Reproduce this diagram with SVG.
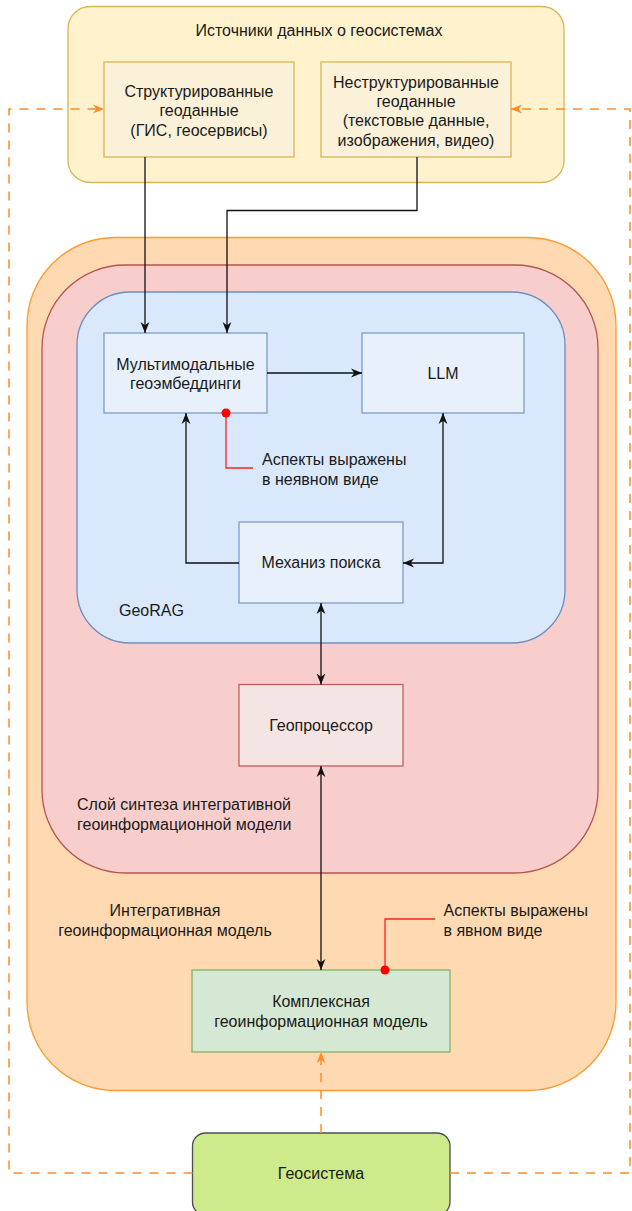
<svg xmlns="http://www.w3.org/2000/svg" width="632" height="1211" viewBox="0 0 632 1211">
<defs>
<style>
text{font-family:"Liberation Sans",Arial,sans-serif;font-size:16px;fill:#1a1a1a}
.c{text-anchor:middle}
.blk{fill:none;stroke:#111;stroke-width:1.3}
.org{fill:none;stroke:#ff8c26;stroke-width:1.5;stroke-dasharray:9 8}
.red{fill:none;stroke:#ff2020;stroke-width:1.3}
.inner{fill:#e8f0fb;stroke:#7d9ccb;stroke-width:1.3}
</style>
<marker id="ab" viewBox="0 0 10 10" refX="10" refY="5" markerWidth="11" markerHeight="11" markerUnits="userSpaceOnUse" orient="auto-start-reverse">
<path d="M0,1 L10,5 L0,9 L3,5 z" fill="#111"/>
</marker>
<marker id="ao" viewBox="0 0 10 10" refX="10" refY="5" markerWidth="11" markerHeight="11" markerUnits="userSpaceOnUse" orient="auto-start-reverse">
<path d="M0,1 L10,5 L0,9 L3,5 z" fill="#ff8c26"/>
</marker>
</defs>
<rect width="632" height="1211" fill="#ffffff"/>

<g id="sources">
<rect x="68" y="6.5" width="496" height="176" rx="22" fill="#fff2cc" stroke="#d6b656" stroke-width="1.3"/>
<text class="c" x="319" y="36">Источники данных о геосистемах</text>
</g>
<g id="structured">
<rect x="104" y="62" width="190" height="95" fill="#faf1d8" stroke="#d6b656" stroke-width="1.3"/>
<text class="c" x="199" y="96.5">Структурированные</text>
<text class="c" x="199" y="116">геоданные</text>
<text class="c" x="199" y="135.5">(ГИС, геосервисы)</text>
</g>
<g id="unstructured">
<rect x="321" y="62" width="190" height="95" fill="#faf1d8" stroke="#d6b656" stroke-width="1.3"/>
<text class="c" x="416" y="87.5">Неструктурированные</text>
<text class="c" x="416" y="107">геоданные</text>
<text class="c" x="416" y="126">(текстовые данные,</text>
<text class="c" x="416" y="145.5">изображения, видео)</text>
</g>

<g id="integrative-model">
<rect x="27" y="237.5" width="589" height="853" rx="88" fill="#ffd9b1" stroke="#ff9a2e" stroke-width="1.3"/>
<text class="c" x="165" y="915.5">Интегративная</text>
<text class="c" x="165" y="935.5">геоинформационная модель</text>
</g>
<g id="synthesis-layer">
<rect x="42" y="265" width="556" height="608" rx="83" fill="#f8cecc" stroke="#b85450" stroke-width="1.3"/>
<text x="77" y="810">Слой синтеза интегративной</text>
<text x="77" y="830">геоинформационной модели</text>
</g>
<g id="georag">
<rect x="77" y="292" width="488" height="351" rx="53" fill="#dae8fc" stroke="#6c8ebf" stroke-width="1.3"/>
<text x="119" y="615.5">GeoRAG</text>
</g>
<g id="embeddings">
<rect class="inner" x="104" y="333" width="163" height="80"/>
<text class="c" x="185.5" y="369.5">Мультимодальные</text>
<text class="c" x="185.5" y="389">геоэмбеддинги</text>
</g>
<g id="llm">
<rect class="inner" x="362" y="333" width="162" height="80"/>
<text class="c" x="443" y="378.5">LLM</text>
</g>
<g id="search">
<rect class="inner" x="239" y="522" width="164" height="81"/>
<text class="c" x="321" y="568">Механиз поиска</text>
</g>
<g id="geoprocessor">
<rect x="239" y="684.5" width="164" height="81.5" fill="#f5e4e4" stroke="#c0605c" stroke-width="1.3"/>
<text class="c" x="321" y="731">Геопроцессор</text>
</g>
<g id="complex-model">
<rect x="192" y="970" width="258" height="82" fill="#d5e8d4" stroke="#82b366" stroke-width="1.3"/>
<text class="c" x="321" y="1007">Комплексная</text>
<text class="c" x="321" y="1026.5">геоинформационная модель</text>
</g>
<g id="geosystem">
<rect x="192.5" y="1133" width="257.5" height="82" rx="13" fill="#cdeb8b" stroke="#4a4d50" stroke-width="1.3"/>
<text class="c" x="321" y="1178.5">Геосистема</text>
</g>
<g id="note-implicit">
<text x="262" y="465">Аспекты выражены</text>
<text x="262" y="485">в неявном виде</text>
</g>
<g id="note-explicit">
<text x="443.5" y="915.5">Аспекты выражены</text>
<text x="443.5" y="935.5">в явном виде</text>
</g>

<g id="connectors">
<path class="blk" d="M145 157 V333" marker-end="url(#ab)"/>
<path class="blk" d="M417 157 V210.5 H227 V333" marker-end="url(#ab)"/>
<path class="blk" d="M267 373 H362" marker-end="url(#ab)"/>
<path class="blk" d="M239 563 H186 V413" marker-end="url(#ab)"/>
<path class="blk" d="M403 563 H443 V413" marker-start="url(#ab)" marker-end="url(#ab)"/>
<path class="blk" d="M321 603 V684.5" marker-start="url(#ab)" marker-end="url(#ab)"/>
<path class="blk" d="M321 766 V970" marker-start="url(#ab)" marker-end="url(#ab)"/>
<path class="org" d="M321 1133 V1052" marker-end="url(#ao)"/>
<path class="org" d="M192.5 1173 H9 V109 H104" marker-end="url(#ao)"/>
<path class="org" d="M450 1173 H630 V109 H511" marker-end="url(#ao)"/>
<path class="red" d="M226 413 V468 H253"/>
<circle cx="226" cy="413" r="4.5" fill="#ff0000"/>
<path class="red" d="M385 970 V919 H435"/>
<circle cx="385" cy="970" r="4.5" fill="#ff0000"/>
</g>
</svg>
